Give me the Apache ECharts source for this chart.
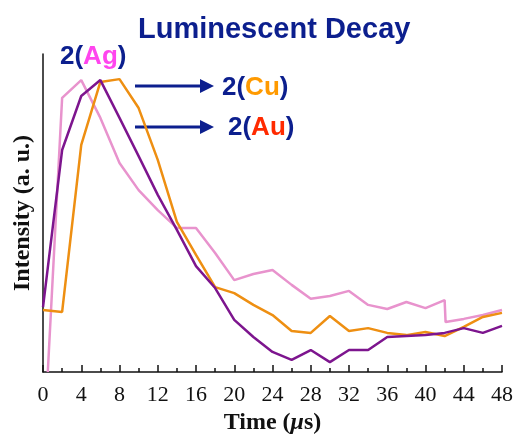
<!DOCTYPE html>
<html>
<head>
<meta charset="utf-8">
<script src="https://cdn.jsdelivr.net/npm/echarts@6/dist/echarts.min.js"></script>
<style>
  html, body { margin: 0; padding: 0; background: #fff; }
  #chart { width: 516px; height: 435px; }
</style>
</head>
<body>
<div id="chart"></div>
<script>
// time points (us)
var times = [0, 2, 4, 6, 8, 10, 12, 14, 16, 18, 20, 22, 24, 26, 28, 30, 32, 34, 36, 38, 40, 42, 44, 46, 48];

// intensity (a. u., 0..100)
var cuValues = [19.5, 18.9, 71.4, 91.2, 92.1, 83.0, 66.7, 47.2, 36.8, 26.7, 24.8, 21.1, 17.9, 12.9, 12.3, 17.6, 12.9, 13.8, 12.3, 11.6, 12.6, 11.3, 14.2, 17.3, 18.6];
var auValues = [20.4, 69.8, 86.8, 91.8, 79.9, 67.9, 55.7, 44.7, 33.3, 26.4, 16.4, 11.0, 6.3, 3.8, 6.9, 3.1, 6.9, 6.9, 11.0, 11.3, 11.6, 12.3, 13.8, 12.3, 14.5];
// Ag has its own time points (starts late, sudden drop at 42)
var agTimes = [0.5, 2, 4, 6, 8, 10, 12, 14, 16, 18, 20, 22, 24, 26, 28, 30, 32, 34, 36, 38, 40, 42, 42.1, 44, 46, 48];
var agValues = [0, 86.2, 91.8, 79.9, 65.7, 57.2, 50.9, 45.3, 45.3, 37.4, 28.9, 30.8, 32.1, 27.4, 23.0, 23.9, 25.5, 21.1, 19.8, 22.0, 20.1, 22.6, 15.7, 16.7, 17.9, 19.5];

function pairs(xs, ys) {
    var out = [];
    for (var i = 0; i < xs.length; i++) {
        out.push([xs[i], ys[i]]);
    }
    return out;
}

var navy = '#0c1f8e';
var myChart = echarts.init(document.getElementById('chart'));

// 标注文字
function label(x, y, metal, color) {
    return {
        type: 'text',
        x: x,
        y: y,
        style: {
            text: '{b|2(}{m|' + metal + '}{b|)}',
            verticalAlign: 'top',
            rich: {
                b: { fontFamily: 'Liberation Sans', fontWeight: 'bold', fontSize: 26, fill: navy },
                m: { fontFamily: 'Liberation Sans', fontWeight: 'bold', fontSize: 26, fill: color }
            }
        }
    };
}

var option = {
    backgroundColor: '#ffffff',
    animation: false,
    title: {
        text: 'Luminescent Decay',
        left: 133,
        top: 10,
        textStyle: {
            fontFamily: 'Liberation Sans',
            fontWeight: 'bold',
            fontSize: 29,
            color: navy
        }
    },
    grid: {
        left: 43,
        right: 14,
        top: 54,
        bottom: 63,
        outerBoundsMode: 'none'
    },
    xAxis: {
        type: 'value',
        min: 0,
        max: 48,
        interval: 4,
        name: '{t|Time (}{mu|\u03bc}{t|s)}',
        nameLocation: 'middle',
        nameGap: 36,
        nameTextStyle: {
            rich: {
                t: { fontFamily: 'Liberation Serif', fontWeight: 'bold', fontSize: 24, color: '#111' },
                mu: { fontFamily: 'Liberation Serif', fontWeight: 'bold', fontStyle: 'italic', fontSize: 24, color: '#111' }
            }
        },
        axisLine: { lineStyle: { color: '#111', width: 1.5 } },
        axisTick: { inside: true, length: 7, lineStyle: { color: '#111', width: 1.5 } },
        minorTick: { show: true, splitNumber: 2, length: 4, lineStyle: { color: '#111', width: 1.5 } },
        axisLabel: {
            fontFamily: 'Liberation Serif',
            fontSize: 22,
            color: '#111',
            margin: 12
        },
        splitLine: { show: false }
    },
    yAxis: {
        type: 'value',
        min: 0,
        max: 100,
        name: 'Intensity (a. u.)',
        nameLocation: 'middle',
        nameGap: 8,
        nameTextStyle: {
            fontFamily: 'Liberation Serif',
            fontWeight: 'bold',
            fontSize: 24,
            color: '#111'
        },
        axisLine: { show: true, lineStyle: { color: '#111', width: 1.5 } },
        axisTick: { show: false },
        axisLabel: { show: false },
        splitLine: { show: false }
    },
    series: [{
        name: 'Ag',
        type: 'line',
        data: pairs(agTimes, agValues),
        showSymbol: false,
        lineStyle: { color: '#e893cd', width: 2.5 },
        z: 2
    }, {
        name: 'Cu',
        type: 'line',
        data: pairs(times, cuValues),
        showSymbol: false,
        lineStyle: { color: '#ee8f12', width: 2.5 },
        z: 3
    }, {
        name: 'Au',
        type: 'line',
        data: pairs(times, auValues),
        showSymbol: false,
        lineStyle: { color: '#7d158e', width: 2.5 },
        z: 4
    }],
    graphic: [
        label(60, 44, 'Ag', '#ff45ee'),
        label(222, 75, 'Cu', '#ff9a00'),
        label(228, 115, 'Au', '#ff2a00'),
        // arrows
        { type: 'line', shape: { x1: 135, y1: 86, x2: 203, y2: 86 }, style: { stroke: navy, lineWidth: 3 } },
        { type: 'polygon', shape: { points: [[200, 79], [214, 86], [200, 93]] }, style: { fill: navy } },
        { type: 'line', shape: { x1: 135, y1: 127, x2: 203, y2: 127 }, style: { stroke: navy, lineWidth: 3 } },
        { type: 'polygon', shape: { points: [[200, 120], [214, 127], [200, 134]] }, style: { fill: navy } }
    ]
};

myChart.setOption(option, true);
</script>
</body>
</html>
